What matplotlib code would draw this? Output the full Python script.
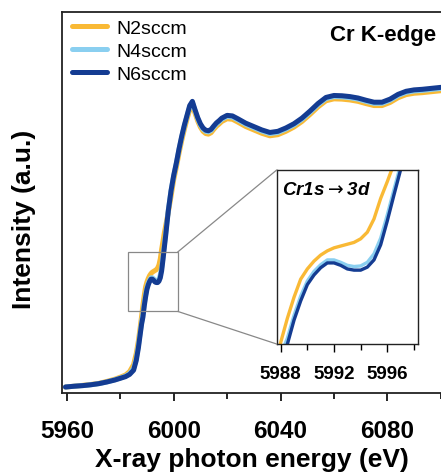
import numpy as np
import matplotlib.pyplot as plt
from matplotlib.patches import Rectangle, ConnectionPatch
from matplotlib.ticker import MultipleLocator

plt.rcParams['font.family'] = ['Liberation Sans', 'DejaVu Sans']
plt.rcParams['mathtext.fontset'] = 'dejavusans'

# photon energy grid (eV)
energy = [5959.5, 5963, 5966, 5969, 5972, 5975, 5978, 5980, 5982, 5983.5,
          5985, 5986, 5986.8, 5987.5, 5988, 5988.5, 5989, 5989.5, 5990, 5990.5,
          5991, 5991.5, 5992, 5992.5, 5993, 5993.5, 5994, 5994.5, 5995, 5995.5,
          5996, 5996.5, 5997, 5997.5, 5998, 5999, 6000, 6001, 6002, 6003,
          6004, 6005, 6006, 6007, 6008, 6009, 6010, 6011, 6012, 6013,
          6014, 6015, 6016, 6017, 6018, 6020, 6022, 6024, 6027, 6030,
          6033, 6036, 6039, 6042, 6045, 6048, 6051, 6054, 6057, 6060,
          6063, 6066, 6069, 6072, 6075, 6078, 6081, 6084, 6087, 6090,
          6093, 6096, 6100]

n6 = [0.000, 0.003, 0.005, 0.008, 0.012, 0.018, 0.025, 0.031, 0.037, 0.045,
      0.060, 0.095, 0.140, 0.190, 0.225, 0.250, 0.290, 0.322, 0.349, 0.365,
      0.377, 0.385, 0.385, 0.381, 0.375, 0.373, 0.373, 0.378, 0.390, 0.415,
      0.455, 0.498, 0.540, 0.585, 0.630, 0.700, 0.755, 0.800, 0.850, 0.895,
      0.935, 0.970, 1.005, 1.020, 0.990, 0.962, 0.940, 0.925, 0.917, 0.915,
      0.920, 0.932, 0.943, 0.951, 0.960, 0.970, 0.968, 0.958, 0.942, 0.930,
      0.918, 0.909, 0.913, 0.925, 0.940, 0.960, 0.985, 1.012, 1.034, 1.041,
      1.040, 1.037, 1.032, 1.024, 1.017, 1.017, 1.028, 1.045, 1.056, 1.061,
      1.063, 1.066, 1.070]

n4 = [0.000, 0.003, 0.005, 0.008, 0.012, 0.018, 0.026, 0.032, 0.039, 0.048,
      0.066, 0.102, 0.148, 0.197, 0.232, 0.260, 0.298, 0.330, 0.355, 0.371,
      0.382, 0.390, 0.390, 0.386, 0.381, 0.379, 0.380, 0.386, 0.400, 0.426,
      0.465, 0.507, 0.548, 0.590, 0.632, 0.700, 0.753, 0.798, 0.848, 0.892,
      0.932, 0.967, 1.000, 1.016, 0.986, 0.958, 0.936, 0.921, 0.913, 0.911,
      0.916, 0.928, 0.939, 0.947, 0.956, 0.966, 0.964, 0.954, 0.938, 0.926,
      0.914, 0.905, 0.909, 0.921, 0.936, 0.956, 0.981, 1.008, 1.030, 1.037,
      1.036, 1.033, 1.028, 1.020, 1.013, 1.013, 1.024, 1.041, 1.052, 1.057,
      1.059, 1.062, 1.066]

n2 = [0.000, 0.003, 0.006, 0.009, 0.013, 0.020, 0.028, 0.035, 0.043, 0.055,
      0.080, 0.120, 0.165, 0.215, 0.253, 0.293, 0.328, 0.358, 0.375, 0.388,
      0.398, 0.405, 0.410, 0.413, 0.416, 0.419, 0.425, 0.436, 0.458, 0.492,
      0.520, 0.550, 0.575, 0.600, 0.625, 0.680, 0.740, 0.785, 0.835, 0.880,
      0.920, 0.957, 0.990, 1.005, 0.978, 0.950, 0.928, 0.913, 0.905, 0.903,
      0.908, 0.920, 0.931, 0.939, 0.948, 0.958, 0.956, 0.946, 0.930, 0.918,
      0.906, 0.897, 0.901, 0.913, 0.928, 0.948, 0.973, 1.000, 1.022, 1.029,
      1.028, 1.025, 1.020, 1.012, 1.005, 1.005, 1.016, 1.033, 1.044, 1.049,
      1.051, 1.054, 1.058]

labels = ['N2sccm', 'N4sccm', 'N6sccm']
colors = ['#F9B935', '#8ACFF0', '#143C92']
series = [n2, n4, n6]

fig = plt.figure(figsize=(4.41, 4.77), dpi=100)
ax = fig.add_axes([0.1406, 0.174, 0.862, 0.7987])

for y, c, lab in zip(series, colors, labels):
    ax.plot(energy, y, color=c, lw=3.6, label=lab, solid_capstyle='round')

ax.set_xlim(5958.2, 6100.5)
ax.set_ylim(-0.0214, 1.339)
ax.set_yticks([])
ax.xaxis.set_major_locator(MultipleLocator(40))
ax.xaxis.set_minor_locator(MultipleLocator(20))
ax.tick_params(axis='x', which='major', direction='out', length=6, width=1.2,
               labelsize=17.5, pad=13)
ax.tick_params(axis='x', which='minor', direction='out', length=4, width=1.2)
for lbl in ax.get_xticklabels():
    lbl.set_fontweight('bold')
for s in ax.spines.values():
    s.set_linewidth(1.3)
    s.set_color('#222222')

ax.set_xlabel('X-ray photon energy (eV)', fontsize=19, fontweight='bold', labelpad=3)
ax.set_ylabel('Intensity (a.u.)', fontsize=19, fontweight='bold')
ax.yaxis.set_label_coords(-0.068, 0.459)

ax.legend(loc='upper left', frameon=False, fontsize=14, handlelength=1.8,
          handletextpad=0.5, labelspacing=0.28, borderaxespad=0.1,
          bbox_to_anchor=(0.0, 1.006))
ax.text(0.985, 0.94, 'Cr K-edge', transform=ax.transAxes, ha='right', va='center',
        fontsize=16, fontweight='bold')

# zoom box on main plot
box_x0, box_x1, box_y0, box_y1 = 5983, 6001.5, 0.27, 0.482
ax.add_patch(Rectangle((box_x0, box_y0), box_x1 - box_x0, box_y1 - box_y0,
                       fill=False, ec='#888888', lw=0.9, zorder=5))

# inset
axin = fig.add_axes([0.6274, 0.2767, 0.3204, 0.3648])
for y, c in zip(series, colors):
    axin.plot(energy, y, color=c, lw=2.4)
axin.set_xlim(5987.7, 5998.3)
axin.set_ylim(0.2504, 0.5392)
axin.set_yticks([])
axin.xaxis.set_minor_locator(MultipleLocator(2))
axin.set_xticks([5988, 5992, 5996])
axin.tick_params(axis='x', which='major', direction='out', length=6, width=1,
                 labelsize=13.5, pad=9)
axin.tick_params(axis='x', which='minor', direction='out', length=4, width=1)
for lbl in axin.get_xticklabels():
    lbl.set_fontweight('bold')
for s in axin.spines.values():
    s.set_linewidth(1.0)
    s.set_color('#222222')
axin.text(0.04, 0.89, r'Cr1s$\rightarrow$3d', transform=axin.transAxes,
          ha='left', va='center', fontsize=13.5, fontweight='bold', fontstyle='italic')

for ya, yb in [(box_y1, 1.0), (box_y0, 0.0)]:
    con = ConnectionPatch(xyA=(box_x1, ya), coordsA=ax.transData,
                          xyB=(0.0, yb), coordsB=axin.transAxes,
                          color='#888888', lw=0.9)
    fig.add_artist(con)

fig.savefig('out.png', dpi=100)
